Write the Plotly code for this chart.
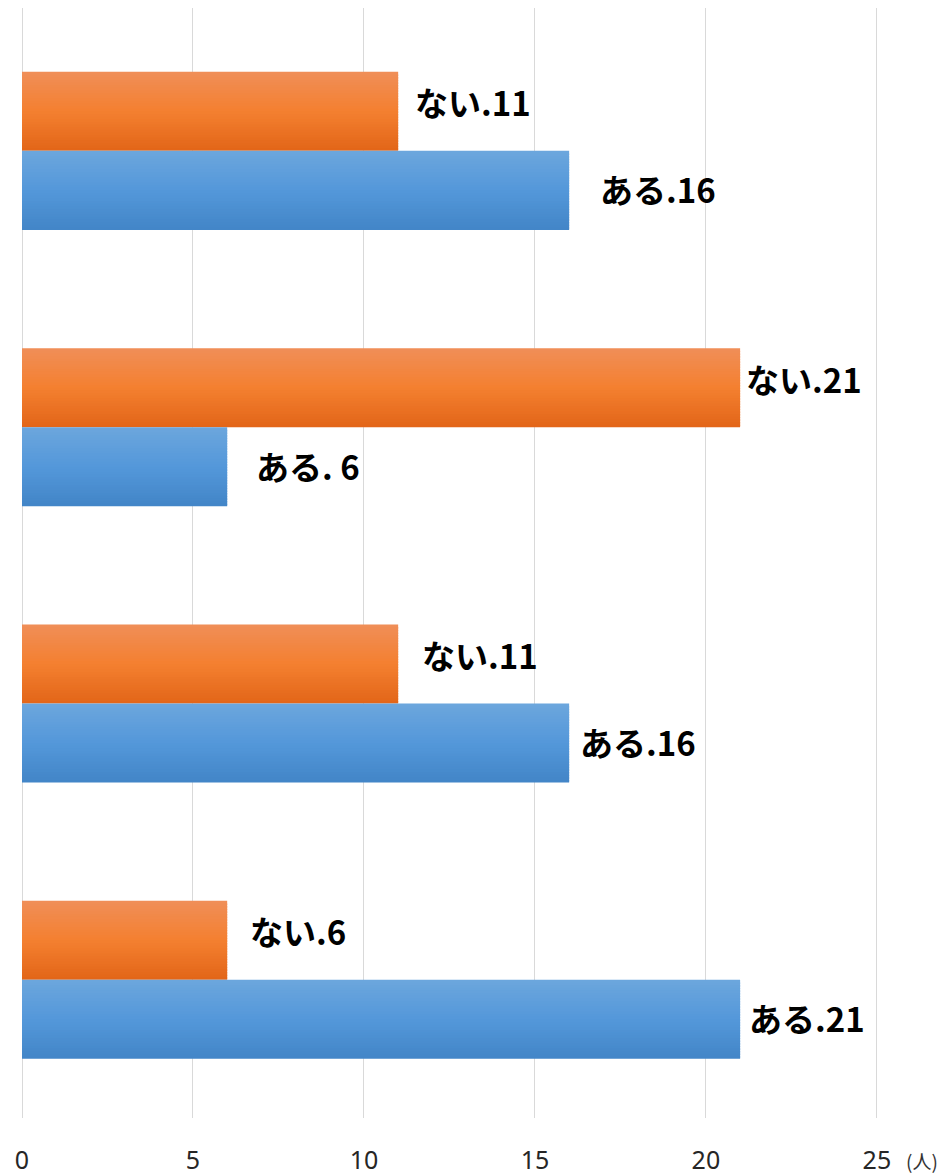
import plotly.graph_objects as go

categories = ["Q1", "Q2", "Q3", "Q4"]
nai_values = [11, 21, 11, 6]
aru_values = [16, 6, 16, 21]
nai_labels = ["ない.11", "ない.21", "ない.11", "ない.6"]
aru_labels = ["ある.16", "ある. 6", "ある.16", "ある.21"]
x_ticks = [0, 5, 10, 15, 20, 25]
unit_label = "(人)"

# styling
nai_shift = [15, 4, 22, 21]
aru_shift = [29, 27, 9, 7]
orange_stops = [(240, 142, 88), (244, 128, 48), (226, 101, 24)]
blue_stops = [(108, 166, 221), (84, 152, 218), (66, 133, 199)]
BAR_H = 0.286
N = 30


def interp(stops, t):
    if t <= 0.5:
        a, b, u = stops[0], stops[1], t / 0.5
    else:
        a, b, u = stops[1], stops[2], (t - 0.5) / 0.5
    return "rgb(%d,%d,%d)" % tuple(round(a[k] + (b[k] - a[k]) * u) for k in range(3))


ypos = list(range(len(categories)))
fig = go.Figure()

for vals, stops, start, name in [
    (nai_values, orange_stops, -BAR_H, "ない"),
    (aru_values, blue_stops, 0.0, "ある"),
]:
    w = BAR_H / N
    for i in range(N):
        fig.add_trace(go.Bar(
            x=vals, y=ypos, orientation="h",
            width=w * (1.6 if i < N - 1 else 1.0), offset=start + i * w,
            marker=dict(color=interp(stops, (i + 0.5) / N), line=dict(width=0)),
            showlegend=False, name=name, hoverinfo="skip",
        ))

for i in range(len(categories)):
    fig.add_annotation(x=nai_values[i], y=ypos[i] - BAR_H / 2, text=nai_labels[i],
                       xanchor="left", yanchor="middle", xshift=nai_shift[i], yshift=9,
                       showarrow=False,
                       font=dict(family="Noto Sans CJK JP", size=33, color="black", weight="bold"))
    fig.add_annotation(x=aru_values[i], y=ypos[i] + BAR_H / 2, text=aru_labels[i],
                       xanchor="left", yanchor="middle", xshift=aru_shift[i], yshift=1,
                       showarrow=False,
                       font=dict(family="Noto Sans CJK JP", size=33, color="black", weight="bold"))

fig.add_annotation(x=x_ticks[-1], xref="x", y=0, yref="paper", text=unit_label,
                   xanchor="left", yanchor="top", xshift=27, yshift=-27, showarrow=False,
                   font=dict(family="Noto Sans CJK JP", size=19, color="#333333"))

fig.update_layout(
    width=940, height=1167,
    margin=dict(l=14, r=54, t=0, b=57, autoexpand=False),
    barmode="overlay",
    plot_bgcolor="white", paper_bgcolor="white",
    xaxis=dict(range=[0, 25.5], tickvals=x_ticks, showgrid=True, gridcolor="#D9D9D9",
               gridwidth=1, zeroline=True, zerolinecolor="#D9D9D9", zerolinewidth=1,
               showline=False, ticks="", ticklabelstandoff=25, automargin=False,
               tickfont=dict(family="Noto Sans", size=25, color="#262626")),
    yaxis=dict(range=[3.5, -0.517], showticklabels=False, showgrid=False,
               zeroline=False, showline=False, ticks="", automargin=False),
)

fig.write_html("out.html")
